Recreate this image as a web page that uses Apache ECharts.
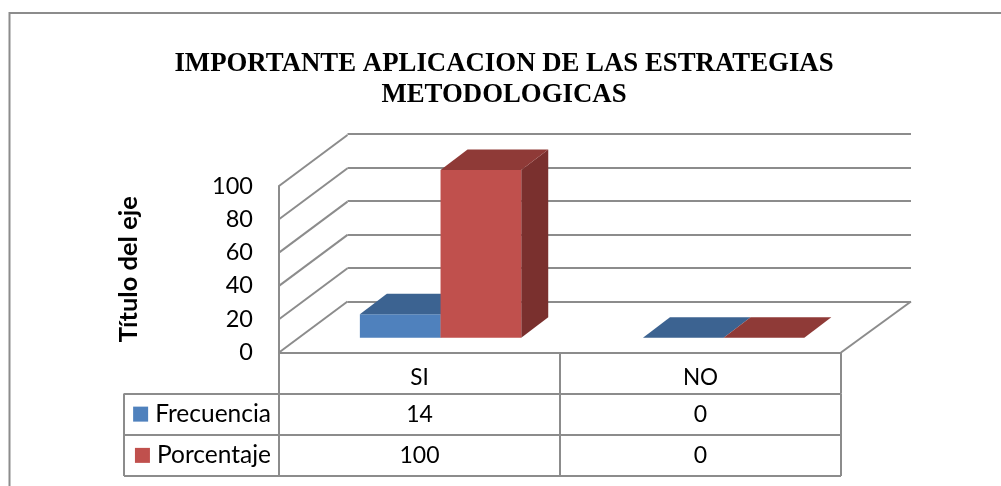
<!DOCTYPE html>
<html>
<head>
<meta charset="utf-8">
<style>html,body{margin:0;padding:0;background:#fff}#c{width:1001px;height:486px}</style>
<script src="https://cdn.jsdelivr.net/npm/echarts@6/dist/echarts.min.js"></script>
</head>
<body>
<div id="c"></div>
<script>
const categories = ['SI', 'NO'];
const frecuencia = [14, 0];
const porcentaje = [100, 0];
const seriesNames = ['Frecuencia', 'Porcentaje'];
const wallTicks = [0, 20, 40, 60, 80, 100];
const titleText = 'IMPORTANTE APLICACION DE LAS ESTRATEGIAS\nMETODOLOGICAS';
const axisTitle = 'Título del eje';

const LINE = '#8c8c8c', TEXT = '#000000';
const FONT = 'Lato';
const LW = 2;
const COLORS = {
  Frecuencia: {front: '#4f81bd', top: '#3c6391', side: '#2f4e73'},
  Porcentaje: {front: '#c0504d', top: '#8f3a37', side: '#7a302e'}
};

function bar3d(name, offsetBands) {
  return function (params, api) {
    const base = api.coord([api.value(0), 0]);
    const top = api.coord([api.value(0), api.value(1)]);
    const w = api.size([1, 0])[0] * 0.285;
    const x0 = base[0] + offsetBands * w, x1 = x0 + w, yb = base[1], yt = top[1];
    const dx = 27, dy = -20.5, c = COLORS[name];
    const poly = (pts, fill) => ({type: 'polygon', shape: {points: pts}, style: {fill: fill, stroke: null}});
    const kids = [];
    if (yb - yt > 0.5) {
      kids.push(poly([[x1, yb], [x1 + dx, yb + dy], [x1 + dx, yt + dy], [x1, yt]], c.side));
      kids.push(poly([[x0, yb], [x1, yb], [x1, yt], [x0, yt]], c.front));
    }
    kids.push(poly([[x0, yt], [x1, yt], [x1 + dx, yt + dy], [x0 + dx, yt + dy]], c.top));
    return {type: 'group', children: kids};
  };
}

const option = {
  animation: false,
  backgroundColor: '#fff',
  title: {
    text: titleText, left: 499, top: 44, textAlign: 'center',
    textStyle: {fontFamily: 'Liberation Serif', fontWeight: 'bold', fontSize: 26.8, lineHeight: 31, color: TEXT}
  },
  graphic: [
    {type: 'polyline', silent: true, shape: {points: [[9.5, 490], [9.5, 13], [1003, 13]]}, style: {fill: null, stroke: LINE, lineWidth: LW}},
    {type: 'line', silent: true, shape: {x1: 124, y1: 393.5, x2: 124, y2: 476}, style: {stroke: LINE, lineWidth: LW}}
  ],
  grid: [
    {left: 279, top: 186, width: 562, height: 166.5},   // front plane: axes
    {left: 347.5, top: 134, width: 563.5, height: 167.5}, // back wall
    {left: 299, top: 170, width: 566.2, height: 167.7},  // plane of the bars
    {left: 279, top: 393.5, width: 562, height: 82.5}    // data table
  ],
  xAxis: [
    {gridIndex: 0, type: 'category', data: categories,
      axisLine: {show: true, lineStyle: {color: LINE, width: LW}},
      axisTick: {show: true, length: 41, lineStyle: {color: LINE, width: LW}},
      axisLabel: {fontFamily: FONT, fontSize: 22.5, color: TEXT, margin: 14}, splitLine: {show: false}},
    {gridIndex: 1, type: 'category', data: categories, show: false},
    {gridIndex: 2, type: 'category', data: categories, show: false},
    {gridIndex: 3, type: 'category', data: categories,
      axisLine: {show: false}, axisTick: {show: false}, axisLabel: {show: false},
      splitLine: {show: true, interval: 0, lineStyle: {color: LINE, width: LW}}}
  ],
  yAxis: [
    {gridIndex: 0, type: 'value', min: 0, max: 100, interval: 20,
      name: axisTitle, nameLocation: 'middle', nameGap: 137, nameRotate: 90,
      nameTextStyle: {fontFamily: FONT, fontWeight: 'bold', fontSize: 25.5, color: TEXT},
      axisLine: {show: true, lineStyle: {color: LINE, width: LW}}, axisTick: {show: false},
      axisLabel: {fontFamily: FONT, fontSize: 23.5, color: TEXT, margin: 26, lineHeight: 23, padding: [9, 0, 0, 0], showMinLabel: true, showMaxLabel: true}, splitLine: {show: false}},
    {gridIndex: 1, type: 'value', min: 0, max: 100, interval: 20,
      axisLine: {show: false}, axisTick: {show: false}, axisLabel: {show: false},
      splitLine: {show: true, lineStyle: {color: LINE, width: LW}}},
    {gridIndex: 2, type: 'value', min: 0, max: 100, show: false, splitLine: {show: false}},
    {gridIndex: 3, type: 'category', data: seriesNames, inverse: true,
      axisLine: {show: true, lineStyle: {color: LINE, width: LW}},
      axisTick: {show: true, length: 155, lineStyle: {color: LINE, width: LW}},
      axisLabel: {
        margin: 8, fontFamily: FONT, fontSize: 24.5, color: TEXT,
        formatter: v => `{${v === 'Frecuencia' ? 'f' : 'p'}|}{t|${v}}`,
        rich: {
          f: {width: 15, height: 15, backgroundColor: COLORS.Frecuencia.front},
          p: {width: 15, height: 15, backgroundColor: COLORS.Porcentaje.front},
          t: {fontFamily: FONT, fontSize: 24.5, color: TEXT, padding: [0, 0, 0, 7]}
        }
      },
      splitLine: {show: true, interval: 0, lineStyle: {color: LINE, width: LW}}}
  ],
  series: [
    {type: 'custom', name: 'walls', xAxisIndex: 0, yAxisIndex: 0, silent: true, z: 1,
      data: wallTicks.map(v => [0, v]), encode: {x: 0, y: 1},
      renderItem(params, api) {
        const cs = params.coordSys;
        const y = api.coord([0, api.value(1)])[1];
        return {type: 'line', shape: {x1: cs.x, y1: y, x2: cs.x + 68.5, y2: y - 51},
          style: {stroke: LINE, lineWidth: LW}};
      }},
    {type: 'custom', name: 'floorEdge', xAxisIndex: 0, yAxisIndex: 0, silent: true, z: 1,
      data: [[1, 0]], encode: {x: 0, y: 1},
      renderItem(params, api) {
        const cs = params.coordSys;
        const y = api.coord([0, 0])[1];
        return {type: 'line', shape: {x1: cs.x + cs.width, y1: y, x2: cs.x + cs.width + 70, y2: y - 51},
          style: {stroke: LINE, lineWidth: LW}};
      }},
    {type: 'custom', name: seriesNames[0], xAxisIndex: 2, yAxisIndex: 2, z: 3,
      data: frecuencia.map((v, i) => [i, v]), encode: {x: 0, y: 1},
      renderItem: bar3d('Frecuencia', -1)},
    {type: 'custom', name: seriesNames[1], xAxisIndex: 2, yAxisIndex: 2, z: 4,
      data: porcentaje.map((v, i) => [i, v]), encode: {x: 0, y: 1},
      renderItem: bar3d('Porcentaje', 0)},
    ...[frecuencia, porcentaje].map((vals, r) => ({
      type: 'custom', name: seriesNames[r] + ' tabla', xAxisIndex: 3, yAxisIndex: 3, silent: true, z: 5,
      data: vals.map((v, i) => [i, r, v]), encode: {x: 0, y: 1},
      renderItem(params, api) {
        const p = api.coord([api.value(0), api.value(1)]);
        return {type: 'text', style: {x: p[0], y: p[1], text: String(api.value(2)), align: 'center', verticalAlign: 'middle',
          fontFamily: FONT, fontSize: 23, fill: TEXT}};
      }
    }))
  ]
};
echarts.init(document.getElementById('c'), null, {renderer: 'canvas'}).setOption(option);
</script>
</body>
</html>
